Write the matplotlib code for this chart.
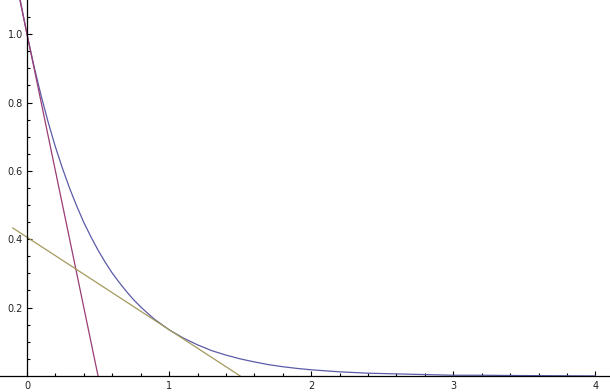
import matplotlib.pyplot as plt
import numpy as np

# curve
curve_x = [-0.05, 0.0, 0.05, 0.1, 0.15, 0.2, 0.25, 0.3, 0.35, 0.4, 0.45, 0.5,
           0.55, 0.6, 0.65, 0.7, 0.75, 0.8, 0.85, 0.9, 0.95, 1.0,
           1.1, 1.2, 1.3, 1.4, 1.5, 1.6, 1.7, 1.8, 1.9, 2.0,
           2.2, 2.4, 2.6, 2.8, 3.0, 3.2, 3.5, 4.0]
curve_y = [1.105, 1.000, 0.905, 0.819, 0.741, 0.670, 0.607, 0.549, 0.497, 0.449, 0.407, 0.368,
           0.333, 0.301, 0.273, 0.247, 0.223, 0.202, 0.183, 0.165, 0.150, 0.135,
           0.111, 0.091, 0.074, 0.061, 0.050, 0.041, 0.033, 0.027, 0.022, 0.018,
           0.012, 0.008, 0.006, 0.004, 0.002, 0.002, 0.001, 0.000]

# steep line (tangent at 0) and shallow line (tangent at 1)
steep_x = [-0.05, 0.5]
steep_y = [1.10, 0.0]
shallow_x = [-0.1, 1.5]
shallow_y = [0.433, 0.0]

xticks = [0, 1, 2, 3, 4]
yticks = [0.2, 0.4, 0.6, 0.8, 1.0]

fig = plt.figure(figsize=(6.10, 3.92), dpi=100)
ax = fig.add_axes([0, 0, 1, 1])

ax.plot(curve_x, curve_y, color='#5b5ba8', lw=0.9, zorder=2)
ax.plot(steep_x, steep_y, color='#9a3d74', lw=0.9, zorder=2)
ax.plot(shallow_x, shallow_y, color='#a39a5c', lw=0.9, zorder=2)

ax.set_xlim(-0.19, 4.103)
ax.set_ylim(-0.047, 1.1)

for s in ['top', 'right']:
    ax.spines[s].set_visible(False)
ax.spines['left'].set_position(('data', 0))
ax.spines['bottom'].set_position(('data', 0))
ax.spines['left'].set_bounds(0, 1.1)
for s in ['left', 'bottom']:
    ax.spines[s].set_linewidth(0.9)
    ax.spines[s].set_zorder(3)

ax.set_xticks(xticks)
ax.set_xticklabels([str(t) for t in xticks])
ax.set_xticks(np.arange(0, 4.01, 0.2), minor=True)
ax.set_yticks(yticks)
ax.set_yticklabels(['%.1f' % t for t in yticks])
ax.set_yticks(np.arange(0.05, 1.1, 0.05), minor=True)

ax.tick_params(which='major', direction='in', length=3.3, width=0.8,
               labelsize=7, labelcolor='#222222')
ax.tick_params(which='minor', direction='in', length=2.2, width=0.8)
ax.tick_params(axis='x', which='major', pad=4)
ax.tick_params(axis='y', which='major', pad=3)

fig.savefig('out.png', dpi=100)
